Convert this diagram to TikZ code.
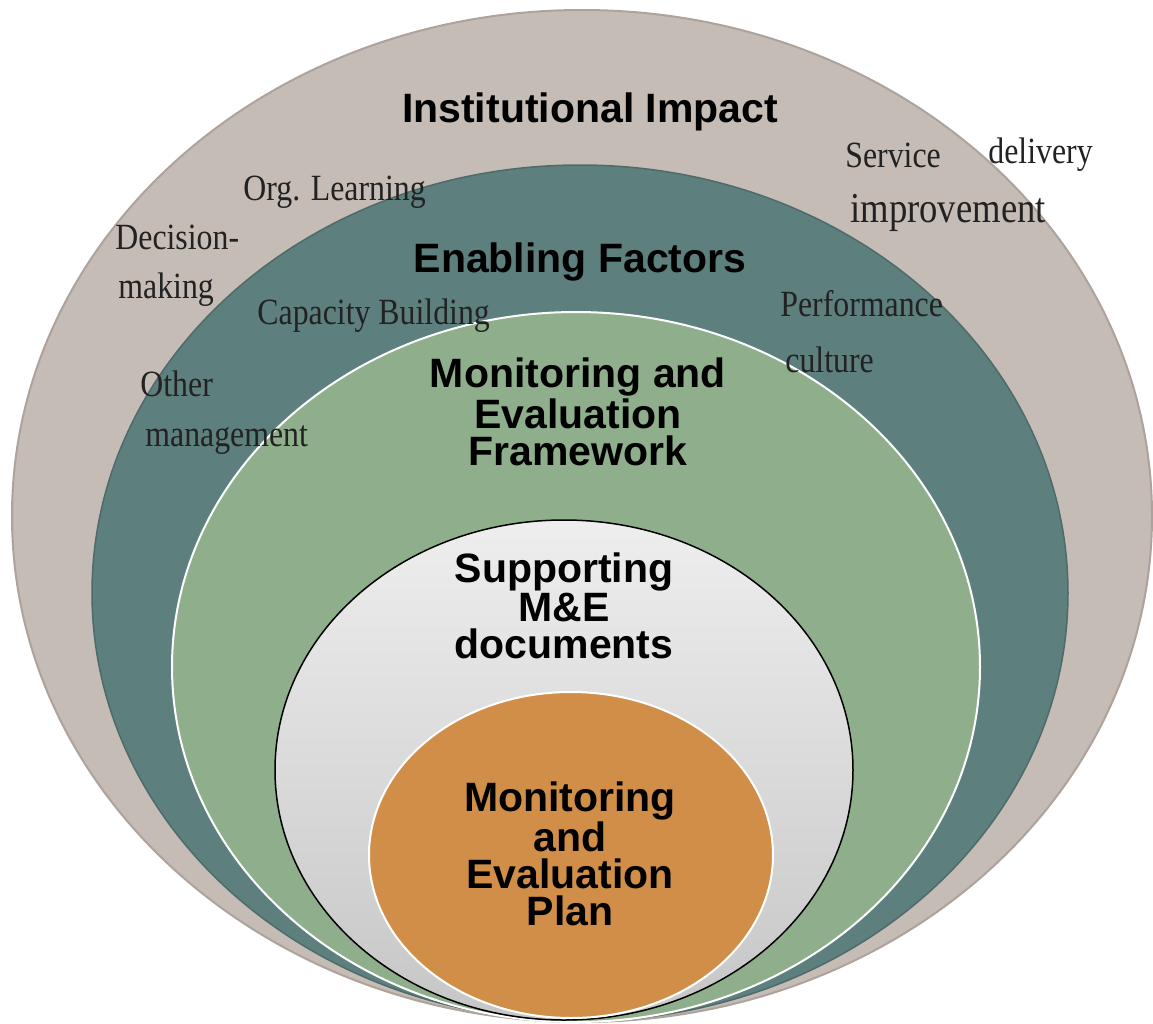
\documentclass[tikz,border=0pt]{standalone}
\usepackage{fontspec}
\setmainfont{Liberation Serif}
\newfontfamily\headfont{Liberation Sans}
\newfontfamily\notefont[FakeStretch=0.86]{Liberation Serif}
\usetikzlibrary{shapes.geometric}

\definecolor{taupe}{HTML}{C5BCB6}
\definecolor{taupeedge}{HTML}{AEA29C}
\definecolor{teal}{HTML}{5D7F7E}
\definecolor{tealedge}{HTML}{4E6B6A}
\definecolor{sage}{HTML}{8FAF8C}
\definecolor{silvertop}{HTML}{EEEEEE}
\definecolor{silverbottom}{HTML}{C6C6C6}
\definecolor{ochre}{HTML}{D08E48}
\definecolor{notegrey}{HTML}{222222}

\begin{document}
\begin{tikzpicture}[x=0.5pt, y=-0.5pt,
    % Styles
    ring/.style={% For the nested ellipses
        ellipse,
        inner sep=0pt,
        },
    head/.style={% For the bold titles
        font=\headfont\bfseries\fontsize{20.5}{18.5}\selectfont,
        align=center,
        inner sep=0pt,
        },
    note/.style={% For the small serif notes
        font=\notefont\fontsize{18.5}{20}\selectfont,
        text=notegrey,
        anchor=west,
        inner sep=0pt,
        },
    ]
    \useasboundingbox (0,0) rectangle (1153,1024);

    % Draw the rings, outside in
    \node [ring, fill=taupe, draw=taupeedge, line width=1pt,
        minimum width=570pt, minimum height=506pt] (impact) at (582,516) {};
    \node [ring, fill=teal, draw=tealedge, line width=0.75pt,
        minimum width=488pt, minimum height=428pt] (enabling) at (580,593) {};
    \node [ring, fill=sage, draw=white, line width=1pt,
        minimum width=404pt, minimum height=355pt] (framework) at (576,667) {};
    \node [ring, top color=silvertop, bottom color=silverbottom, draw=black, line width=0.75pt,
        minimum width=289pt, minimum height=250pt] (support) at (564,770) {};
    \node [ring, fill=ochre, draw=white, line width=1pt,
        minimum width=202pt, minimum height=163pt] (plan) at (571,855) {};

    % Titles
    \node [head] (impacttitle) at (590,112) {Institutional Impact};
    \node [head] (enablingtitle) at (580,262) {Enabling Factors};
    \node [head] (frameworktitle) at (578,412) {Monitoring and\\Evaluation\\Framework};
    \node [head] (supporttitle) at (564,606) {Supporting\\M\&E\\documents};
    \node [head] (plantitle) at (570,854) {Monitoring\\and\\Evaluation\\Plan};

    % Notes round the rings
    \node [note] (orglearning) at (243,192) {Org. Learning};
    \node [note] (decision) at (115,237) {Decision-};
    \node [note] (making) at (118,290) {making};
    \node [note] (capacity) at (257,316) {Capacity Building};
    \node [note] (other) at (140,384) {Other};
    \node [note] (management) at (145,440) {management};
    \node [note] (service) at (845,155) {Service};
    \node [note] (delivery) at (988,155) {delivery};
    \node [note, font=\notefont\fontsize{21.3}{22}\selectfont] (improvement) at (850,213) {improvement};
    \node [note] (performance) at (780,304) {Performance};
    \node [note] (culture) at (785,360) {culture};

\end{tikzpicture}
\end{document}
